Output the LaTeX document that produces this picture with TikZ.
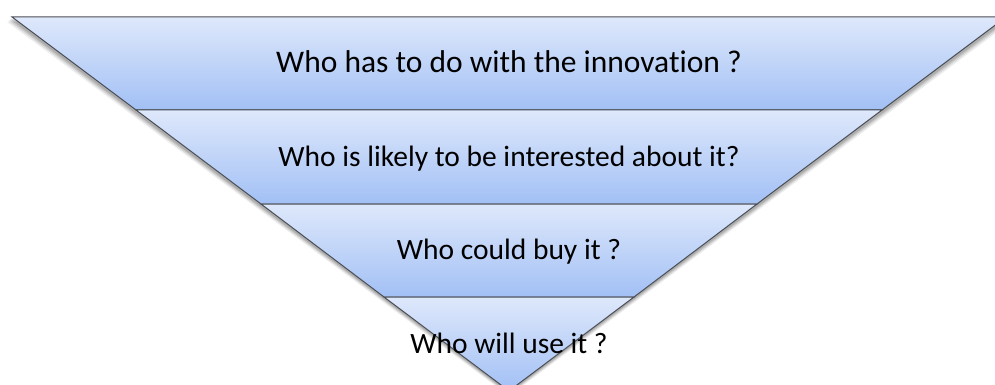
\documentclass[tikz,border=0pt]{standalone}
\usepackage{fontspec}
\setmainfont{Carlito}[Ligatures=NoCommon]
\usetikzlibrary{shadows}

\definecolor{bandtop}{RGB}{222,232,251}
\definecolor{bandbot}{RGB}{162,192,245}
\definecolor{bandline}{RGB}{75,78,85}

\tikzset{
  band/.style={draw=bandline, line width=1pt, line join=miter,
    top color=bandtop, bottom color=bandbot},
  question/.style={anchor=base, font=\fontsize{29.5}{31}\selectfont, text=black}
}

\begin{document}
\begin{tikzpicture}[x=1pt, y=-1pt]
    \useasboundingbox (0,0) rectangle (995,385);
    \fill[white] (0,0) rectangle (995,385);

    % Soft shadow under the funnel
    \foreach \s/\o in {5/0.06, 4/0.08, 3/0.10, 2/0.12} {
        \fill[black, opacity=\o] (12-\s,17+\s) -- (1006+\s,17+\s) -- (509,391+\s) -- cycle;
    }

    % Bands of the funnel
    \draw[band] (12,17) -- (1006,17) -- (882,110) -- (136,110) -- cycle;
    \draw[band] (136,110) -- (882,110) -- (757,204) -- (261,204) -- cycle;
    \draw[band] (261,204) -- (757,204) -- (634,297) -- (384,297) -- cycle;
    \draw[band] (384,297) -- (634,297) -- (509,391) -- cycle;

    % Questions
    \node[question, font=\fontsize{31.5}{33}\selectfont] (q1) at (509,73) {Who has to do with the innovation ?};
    \node[question] (q2) at (509,166) {Who is likely to be interested about it?};
    \node[question] (q3) at (509,259) {Who could buy it ?};
    \node[question] (q4) at (509,353) {Who will use it ?};
\end{tikzpicture}
\end{document}
